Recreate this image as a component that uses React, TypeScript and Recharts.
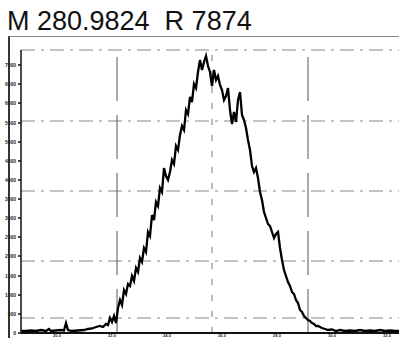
import { LineChart, Line, XAxis, YAxis, ReferenceLine } from "recharts";

// scan position (arbitrary channel units) and ion count
const scanPos = [
  0, 5, 10, 15, 20, 25, 28, 30, 35, 40, 43, 45, 47, 51, 57, 63, 67, 71, 75, 79,
  82, 85, 87, 89, 91, 93, 95, 97, 99, 101, 103, 105, 107, 109, 111, 113, 115, 117, 119, 121,
  123, 125, 127, 129, 131, 133, 135, 137, 139, 141, 143, 145, 147, 149, 151, 153, 155, 157, 159, 161,
  163, 165, 167, 169, 171, 173, 175, 177, 179, 181, 183, 185, 187, 189, 191, 193, 195, 197, 199, 201,
  203, 205, 207, 209, 211, 213, 215, 217, 219, 221, 223, 225, 227, 229, 231, 233, 235, 237, 239, 241,
  243, 245, 247, 249, 251, 253, 255, 257, 259, 261, 263, 265, 267, 269, 271, 273, 275, 277, 279, 281,
  283, 285, 287, 289, 291, 293, 295, 297, 299, 301, 304, 307, 311, 315, 319, 324, 329, 334, 339, 344,
  349, 354, 359, 364, 369, 374, 378,
];
const ionCount = [
  2, 2, 2.5, 2, 3, 2, 4, 2, 2.5, 3, 2.5, 10, 3, 2, 2.5, 3, 4, 4.5, 6, 7,
  6, 9, 8, 15, 11, 17, 10, 25, 33, 28, 43, 39, 49, 47, 57, 52, 65, 61, 75, 71,
  85, 81, 101, 97, 118, 113, 131, 127, 145, 141, 165, 157, 153, 161, 173, 169, 187, 183, 198, 207,
  203, 223, 219, 236, 231, 249, 245, 261, 273, 263, 271, 277, 267, 261, 247, 263, 253, 257, 248, 243,
  233, 237, 245, 223, 209, 221, 211, 233, 241, 218, 213, 205, 193, 183, 167, 161, 165, 155, 141, 133,
  121, 115, 109, 107, 101, 95, 99, 101, 85, 73, 63, 57, 51, 47, 41, 39, 33, 30, 23, 21,
  17, 15, 13, 12, 10, 9, 7, 7, 6, 5, 4, 3, 3.5, 2, 3, 2, 2.5, 2, 3, 2,
  2.5, 2, 3, 2, 2.5, 2, 2,
];

const xTicks = [36, 91, 146, 201, 256, 311, 366];
const xTickLabels = ["20.0", "22.0", "24.0", "26.0", "28.0", "30.0", "32.0"];
const yTicks = [0, 19, 38, 57, 77, 96, 115, 134, 153, 172, 191, 210, 230, 249, 268];
const yTickLabels = [
  "0", "500", "1000", "1500", "2000", "2500", "3000", "3500",
  "4000", "4500", "5000", "5500", "6000", "6500", "7000",
];
const vGrid = [96, 191, 287];
const hGrid = [15, 72, 142, 212, 283];

const data = scanPos.map((x, i) => ({ x, y: ionCount[i] }));

export default function App() {
  return (
    <div
      style={{
        position: "absolute",
        left: 0,
        top: 0,
        width: 399,
        height: 338,
        background: "#fff",
        overflow: "hidden",
        fontFamily: "'Liberation Sans', Arial, sans-serif",
      }}
    >
      <div
        style={{
          position: "absolute",
          left: 7,
          top: 8,
          fontSize: 27,
          lineHeight: "27px",
          color: "#111",
          whiteSpace: "pre",
        }}
      >
        M 280.9824  R 7874
      </div>
      <div
        style={{
          position: "absolute",
          left: 8,
          top: 36,
          width: 400,
          height: 310,
          borderLeft: "2px solid #333",
          borderTop: "1px solid #888",
        }}
      />
      <div style={{ position: "absolute", left: 0, top: 0 }}>
        <LineChart
          width={399}
          height={338}
          data={data}
          margin={{ top: 50, right: 0, bottom: 0, left: 0 }}
        >
          <XAxis
            dataKey="x"
            type="number"
            domain={[0, 378]}
            ticks={xTicks}
            tickFormatter={(v: number) => xTickLabels[xTicks.indexOf(v)] ?? ""}
            height={5}
            tickSize={1}
            tickMargin={0}
            tick={{ fontSize: 4, fill: "#222", fontWeight: 700 }}
            axisLine={{ stroke: "#111", strokeWidth: 2 }}
            tickLine={{ stroke: "#111" }}
          />
          <YAxis
            type="number"
            domain={[0, 283]}
            ticks={yTicks}
            tickFormatter={(v: number) => yTickLabels[yTicks.indexOf(v)] ?? ""}
            width={21}
            tickSize={3}
            tick={{ fontSize: 5, fill: "#222", fontWeight: 700 }}
            axisLine={{ stroke: "#111", strokeWidth: 1.5 }}
            tickLine={{ stroke: "#111", strokeWidth: 1.5 }}
            allowDataOverflow
          />
          {hGrid.map((h) => (
            <ReferenceLine
              key={"h" + h}
              y={h}
              stroke="#888"
              strokeDasharray="14 6 3 6"
            />
          ))}
          <ReferenceLine x={vGrid[0]} stroke="#555" strokeDasharray="44 14" />
          <ReferenceLine x={vGrid[1]} stroke="#777" strokeDasharray="6 10" />
          <ReferenceLine x={vGrid[2]} stroke="#555" strokeDasharray="44 14" />
          <Line
            type="linear"
            dataKey="y"
            stroke="#000"
            strokeWidth={2.3}
            dot={false}
            isAnimationActive={false}
          />
        </LineChart>
      </div>
    </div>
  );
}
